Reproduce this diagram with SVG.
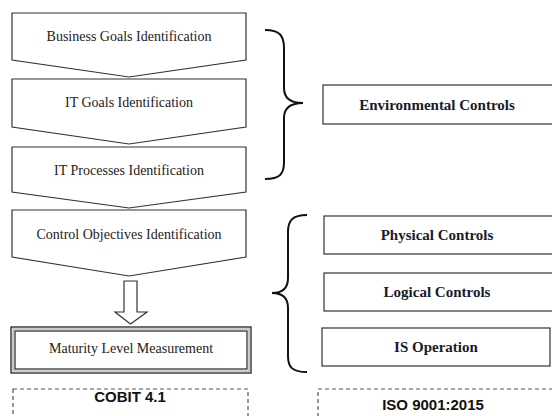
<svg xmlns="http://www.w3.org/2000/svg" width="552" height="416" viewBox="0 0 552 416">
<style>
.sh{fill:#fff;stroke:#333;stroke-width:1.2}
.br{fill:none;stroke:#111;stroke-width:2}
.dash{fill:#fff;stroke:#555;stroke-width:1.2;stroke-dasharray:4 3}
.t{font-family:"Liberation Serif",serif;font-size:14px;fill:#222;text-anchor:middle}
.tb{font-family:"Liberation Serif",serif;font-size:15px;font-weight:bold;fill:#1a1a2a;text-anchor:middle}
.ts{font-family:"Liberation Sans",sans-serif;font-size:15px;font-weight:bold;fill:#111;text-anchor:middle}
</style>
<rect width="552" height="416" fill="#fff"/>
<g id="business-goals">
<path class="sh" d="M12,13 H246 V60 L129,77 L12,60 Z"/>
<text class="t" x="129" y="41">Business Goals Identification</text>
</g>
<g id="it-goals">
<path class="sh" d="M12,79 H246 V127 L129,144 L12,127 Z"/>
<text class="t" x="129" y="107">IT Goals Identification</text>
</g>
<g id="it-processes">
<path class="sh" d="M12,147 H246 V192 L129,208 L12,192 Z"/>
<text class="t" x="129" y="175">IT Processes Identification</text>
</g>
<g id="control-objectives">
<path class="sh" d="M12,210 H246 V257 L129,276 L12,257 Z"/>
<text class="t" x="129" y="239">Control Objectives Identification</text>
</g>
<g id="connectors">
<path class="sh" d="M124,281 H137 V312 H147 L130.5,324 L115,312 H124 Z"/>
<path class="br" d="M265,30 C280,30 284,36 284,48 V88 C284,98 290,103 303,103 C290,103 284,108 284,118 V162 C284,174 280,179 265,179"/>
<path class="br" d="M307,215 C292,215 288,221 288,232 V278 C288,288 282,293 272,293 C282,293 288,298 288,308 V356 C288,367 292,372 307,372"/>
</g>
<g id="maturity-level">
<rect x="11" y="327" width="240" height="46" fill="#fff" stroke="#222" stroke-width="1.3"/>
<rect x="13" y="329" width="236" height="42" fill="none" stroke="#aaa" stroke-width="1.2"/>
<rect x="15" y="331" width="232" height="38" fill="none" stroke="#222" stroke-width="1.2"/>
<text class="t" x="131" y="353">Maturity Level Measurement</text>
</g>
<g id="cobit">
<rect class="dash" x="13" y="389" width="235" height="40"/>
<text class="ts" x="130" y="402">COBIT 4.1</text>
</g>
<g id="environmental-controls">
<rect class="sh" x="323" y="85" width="232" height="39"/>
<text class="tb" x="437" y="110">Environmental Controls</text>
</g>
<g id="physical-controls">
<rect class="sh" x="324" y="216" width="232" height="38"/>
<text class="tb" x="437" y="240">Physical Controls</text>
</g>
<g id="logical-controls">
<rect class="sh" x="324" y="273" width="232" height="38"/>
<text class="tb" x="437" y="297">Logical Controls</text>
</g>
<g id="is-operation">
<rect class="sh" x="322" y="328" width="228" height="38"/>
<text class="tb" x="436" y="352">IS Operation</text>
</g>
<g id="iso">
<rect class="dash" x="318" y="389" width="240" height="40"/>
<text class="ts" x="433" y="410">ISO 9001:2015</text>
</g>
</svg>
